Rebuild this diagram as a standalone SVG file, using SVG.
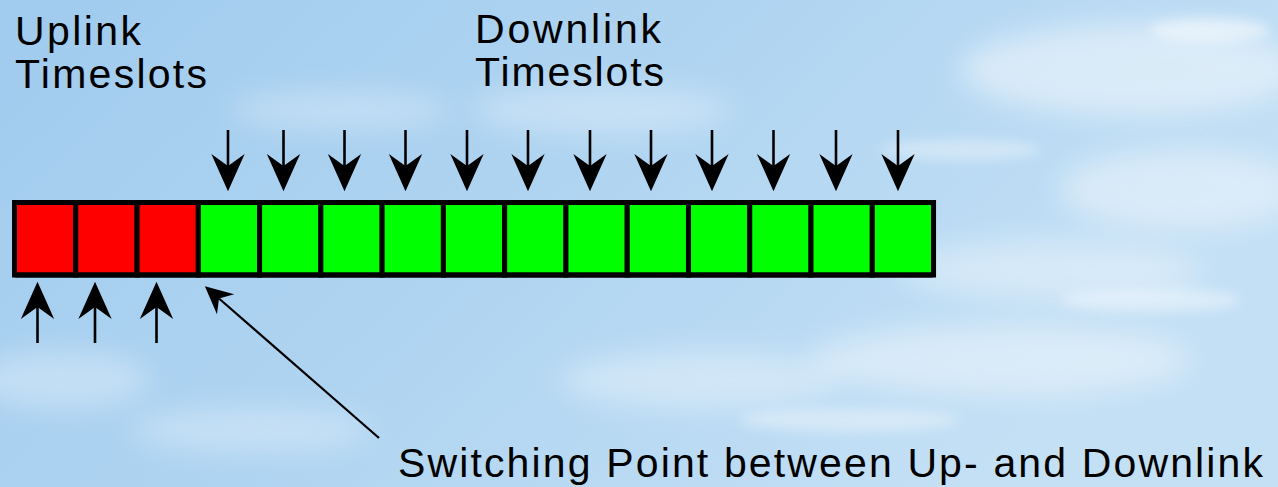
<svg xmlns="http://www.w3.org/2000/svg" width="1278" height="487" viewBox="0 0 1278 487">
  <defs>
    <linearGradient id="sky" x1="0" y1="0" x2="1" y2="0.4">
      <stop offset="0" stop-color="#a0cbee"/>
      <stop offset="0.5" stop-color="#afd4f1"/>
      <stop offset="1" stop-color="#c4e0f5"/>
    </linearGradient>
    <filter id="haze" x="-50%" y="-50%" width="200%" height="200%">
      <feGaussianBlur stdDeviation="14"/>
    </filter>
    <filter id="wisp" x="-50%" y="-50%" width="200%" height="200%">
      <feGaussianBlur stdDeviation="6"/>
    </filter>
    <marker id="head" markerUnits="userSpaceOnUse" markerWidth="40" markerHeight="40"
            viewBox="-10 -14 30 28" refX="0" refY="0" orient="auto">
      <path d="M19,0 L-9,-12.5 L0,0 L-9,12.5 Z" fill="#000"/>
    </marker>
    <marker id="head-sm" markerUnits="userSpaceOnUse" markerWidth="30" markerHeight="30"
            viewBox="-8 -11 24 22" refX="0" refY="0" orient="auto">
      <path d="M15,0 L-7,-10.5 L0,0 L-7,10.5 Z" fill="#000"/>
    </marker>
    <style>
      .label { font-family: "Liberation Sans", Arial, sans-serif; font-size: 41px; fill: #000; }
      .up { fill: #ff0000; stroke: #000; stroke-width: 5; }
      .down { fill: #00ff00; stroke: #000; stroke-width: 5; }
      .arrow { stroke: #000; stroke-width: 2.6; fill: none; marker-end: url(#head); }
      .pointer { stroke: #000; stroke-width: 2.2; fill: none; marker-end: url(#head-sm); }
      .cloud { fill: #ffffff; }
    </style>
  </defs>

  <!-- sky backdrop -->
  <rect x="0" y="0" width="1278" height="487" fill="url(#sky)"/>
  <g id="clouds" class="cloud">
    <ellipse cx="1130" cy="70" rx="170" ry="45" opacity="0.45" filter="url(#haze)"/>
    <ellipse cx="1180" cy="190" rx="120" ry="40" opacity="0.4" filter="url(#haze)"/>
    <ellipse cx="1050" cy="270" rx="150" ry="30" opacity="0.35" filter="url(#haze)"/>
    <ellipse cx="1000" cy="360" rx="190" ry="35" opacity="0.4" filter="url(#haze)"/>
    <ellipse cx="700" cy="380" rx="140" ry="28" opacity="0.35" filter="url(#haze)"/>
    <ellipse cx="600" cy="110" rx="130" ry="25" opacity="0.3" filter="url(#haze)"/>
    <ellipse cx="340" cy="110" rx="110" ry="20" opacity="0.28" filter="url(#haze)"/>
    <ellipse cx="60" cy="380" rx="90" ry="30" opacity="0.3" filter="url(#haze)"/>
    <ellipse cx="250" cy="430" rx="120" ry="22" opacity="0.3" filter="url(#haze)"/>
    <ellipse cx="1210" cy="30" rx="60" ry="12" opacity="0.5" filter="url(#wisp)"/>
    <ellipse cx="960" cy="150" rx="80" ry="10" opacity="0.35" filter="url(#wisp)"/>
    <ellipse cx="1150" cy="300" rx="90" ry="12" opacity="0.4" filter="url(#wisp)"/>
    <ellipse cx="850" cy="420" rx="110" ry="12" opacity="0.35" filter="url(#wisp)"/>
  </g>

  <!-- titles -->
  <g id="uplink-label">
    <text class="label" x="15" y="45" textLength="126" lengthAdjust="spacing">Uplink</text>
    <text class="label" x="15" y="88" textLength="192" lengthAdjust="spacing">Timeslots</text>
  </g>
  <g id="downlink-label">
    <text class="label" x="475" y="43" textLength="186" lengthAdjust="spacing">Downlink</text>
    <text class="label" x="475" y="86" textLength="189" lengthAdjust="spacing">Timeslots</text>
  </g>

  <!-- frame: 3 uplink slots followed by 12 downlink slots -->
  <g id="frame">
    <rect class="up" x="14.5" y="202.5" width="61.27" height="72.5"/>
    <rect class="up" x="75.77" y="202.5" width="61.27" height="72.5"/>
    <rect class="up" x="137.04" y="202.5" width="61.27" height="72.5"/>
    <rect class="down" x="198.31" y="202.5" width="61.27" height="72.5"/>
    <rect class="down" x="259.58" y="202.5" width="61.27" height="72.5"/>
    <rect class="down" x="320.85" y="202.5" width="61.27" height="72.5"/>
    <rect class="down" x="382.12" y="202.5" width="61.27" height="72.5"/>
    <rect class="down" x="443.39" y="202.5" width="61.27" height="72.5"/>
    <rect class="down" x="504.66" y="202.5" width="61.27" height="72.5"/>
    <rect class="down" x="565.93" y="202.5" width="61.27" height="72.5"/>
    <rect class="down" x="627.2" y="202.5" width="61.27" height="72.5"/>
    <rect class="down" x="688.47" y="202.5" width="61.27" height="72.5"/>
    <rect class="down" x="749.74" y="202.5" width="61.27" height="72.5"/>
    <rect class="down" x="811.01" y="202.5" width="61.27" height="72.5"/>
    <rect class="down" x="872.28" y="202.5" width="61.27" height="72.5"/>
    <rect x="14.5" y="202.5" width="919" height="72.5" rx="2" fill="none" stroke="#000" stroke-width="5"/>
  </g>

  <!-- caption -->
  <g id="switching-label">
    <text class="label" x="398" y="477" textLength="865" lengthAdjust="spacing">Switching Point between Up- and Downlink</text>
  </g>

  <g id="connectors">
    <!-- downlink arrows -->
    <line class="arrow" x1="228" y1="130" x2="228" y2="166"/>
    <line class="arrow" x1="283.5" y1="130" x2="283.5" y2="166"/>
    <line class="arrow" x1="344.5" y1="130" x2="344.5" y2="166"/>
    <line class="arrow" x1="405.5" y1="130" x2="405.5" y2="166"/>
    <line class="arrow" x1="467" y1="130" x2="467" y2="166"/>
    <line class="arrow" x1="528" y1="130" x2="528" y2="166"/>
    <line class="arrow" x1="590" y1="130" x2="590" y2="166"/>
    <line class="arrow" x1="651" y1="130" x2="651" y2="166"/>
    <line class="arrow" x1="712" y1="130" x2="712" y2="166"/>
    <line class="arrow" x1="773.5" y1="130" x2="773.5" y2="166"/>
    <line class="arrow" x1="836" y1="130" x2="836" y2="166"/>
    <line class="arrow" x1="898" y1="130" x2="898" y2="166"/>
    <!-- uplink arrows -->
    <line class="arrow" x1="37.5" y1="343" x2="37.5" y2="307"/>
    <line class="arrow" x1="95" y1="343" x2="95" y2="307"/>
    <line class="arrow" x1="156.5" y1="343" x2="156.5" y2="307"/>
    <!-- switching point pointer -->
    <line class="pointer" x1="379" y1="438" x2="219" y2="298.5"/>
  </g>
</svg>
